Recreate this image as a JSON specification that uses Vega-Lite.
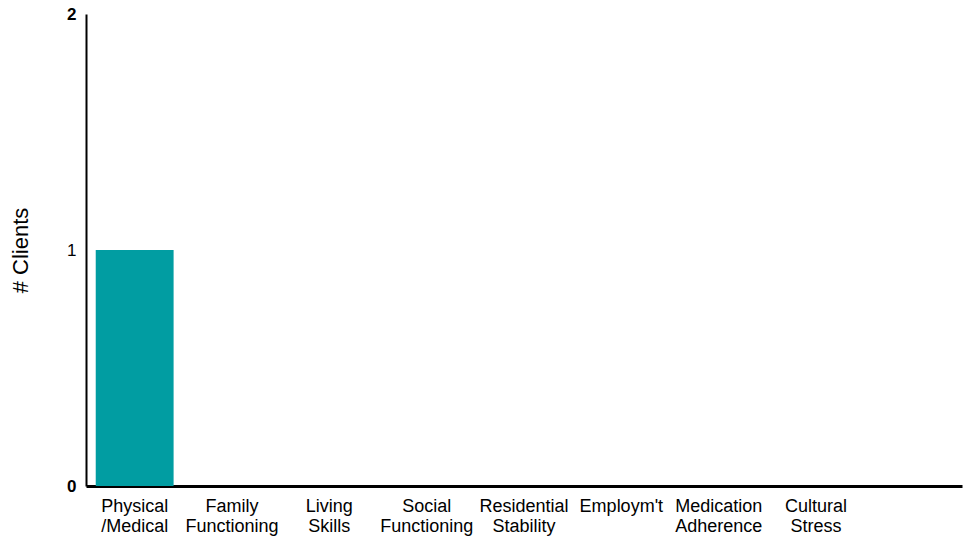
{
  "$schema": "https://vega.github.io/schema/vega-lite/v6.json",
  "width": 876,
  "height": 472,
  "autosize": {"type": "none"},
  "padding": {"left": 86, "top": 14, "right": 1, "bottom": 52},
  "background": "white",
  "config": {"view": {"stroke": null}, "font": "Liberation Sans"},
  "data": {
    "values": [
      {"category": "Physical|/Medical", "clients": 1},
      {"category": "Family|Functioning", "clients": 0},
      {"category": "Living|Skills", "clients": 0},
      {"category": "Social|Functioning", "clients": 0},
      {"category": "Residential|Stability", "clients": 0},
      {"category": "Employm't", "clients": 0},
      {"category": "Medication|Adherence", "clients": 0},
      {"category": "Cultural|Stress", "clients": 0}
    ]
  },
  "mark": {"type": "bar", "color": "#019DA2"},
  "encoding": {
    "x": {
      "field": "category",
      "type": "nominal",
      "sort": null,
      "scale": {
        "domain": ["Physical|/Medical", "Family|Functioning", "Living|Skills", "Social|Functioning", "Residential|Stability", "Employm't", "Medication|Adherence", "Cultural|Stress", "_blank"],
        "paddingInner": 0.2,
        "paddingOuter": 0.1
      },
      "axis": {
        "title": null,
        "labelAngle": 0,
        "labelExpr": "datum.value === '_blank' ? '' : split(datum.value, '|')",
        "labelFont": "Liberation Sans",
        "labelFontSize": 18,
        "labelColor": "black",
        "labelLineHeight": 20,
        "labelPadding": 11,
        "ticks": false,
        "domainColor": "black",
        "domainWidth": 3,
        "labelOverlap": false
      }
    },
    "y": {
      "field": "clients",
      "type": "quantitative",
      "scale": {"domain": [0, 2], "nice": false},
      "axis": {
        "title": "# Clients",
        "titleFont": "Liberation Sans",
        "titleFontSize": 22,
        "titleFontWeight": "normal",
        "titleColor": "black",
        "titlePadding": 34,
        "values": [0, 1, 2],
        "labelExpr": "datum.value === 0 ? '0' : datum.value === 1 ? '1' : '2'",
        "labelFont": "Liberation Sans",
        "labelFontSize": 17,
        "labelFontWeight": {"condition": {"test": "datum.value === 1", "value": "normal"}, "value": "bold"},
        "labelColor": "black",
        "labelPadding": 10,
        "labelOverlap": false,
        "ticks": false,
        "grid": false,
        "domainColor": "black",
        "domainWidth": 2
      }
    }
  }
}
